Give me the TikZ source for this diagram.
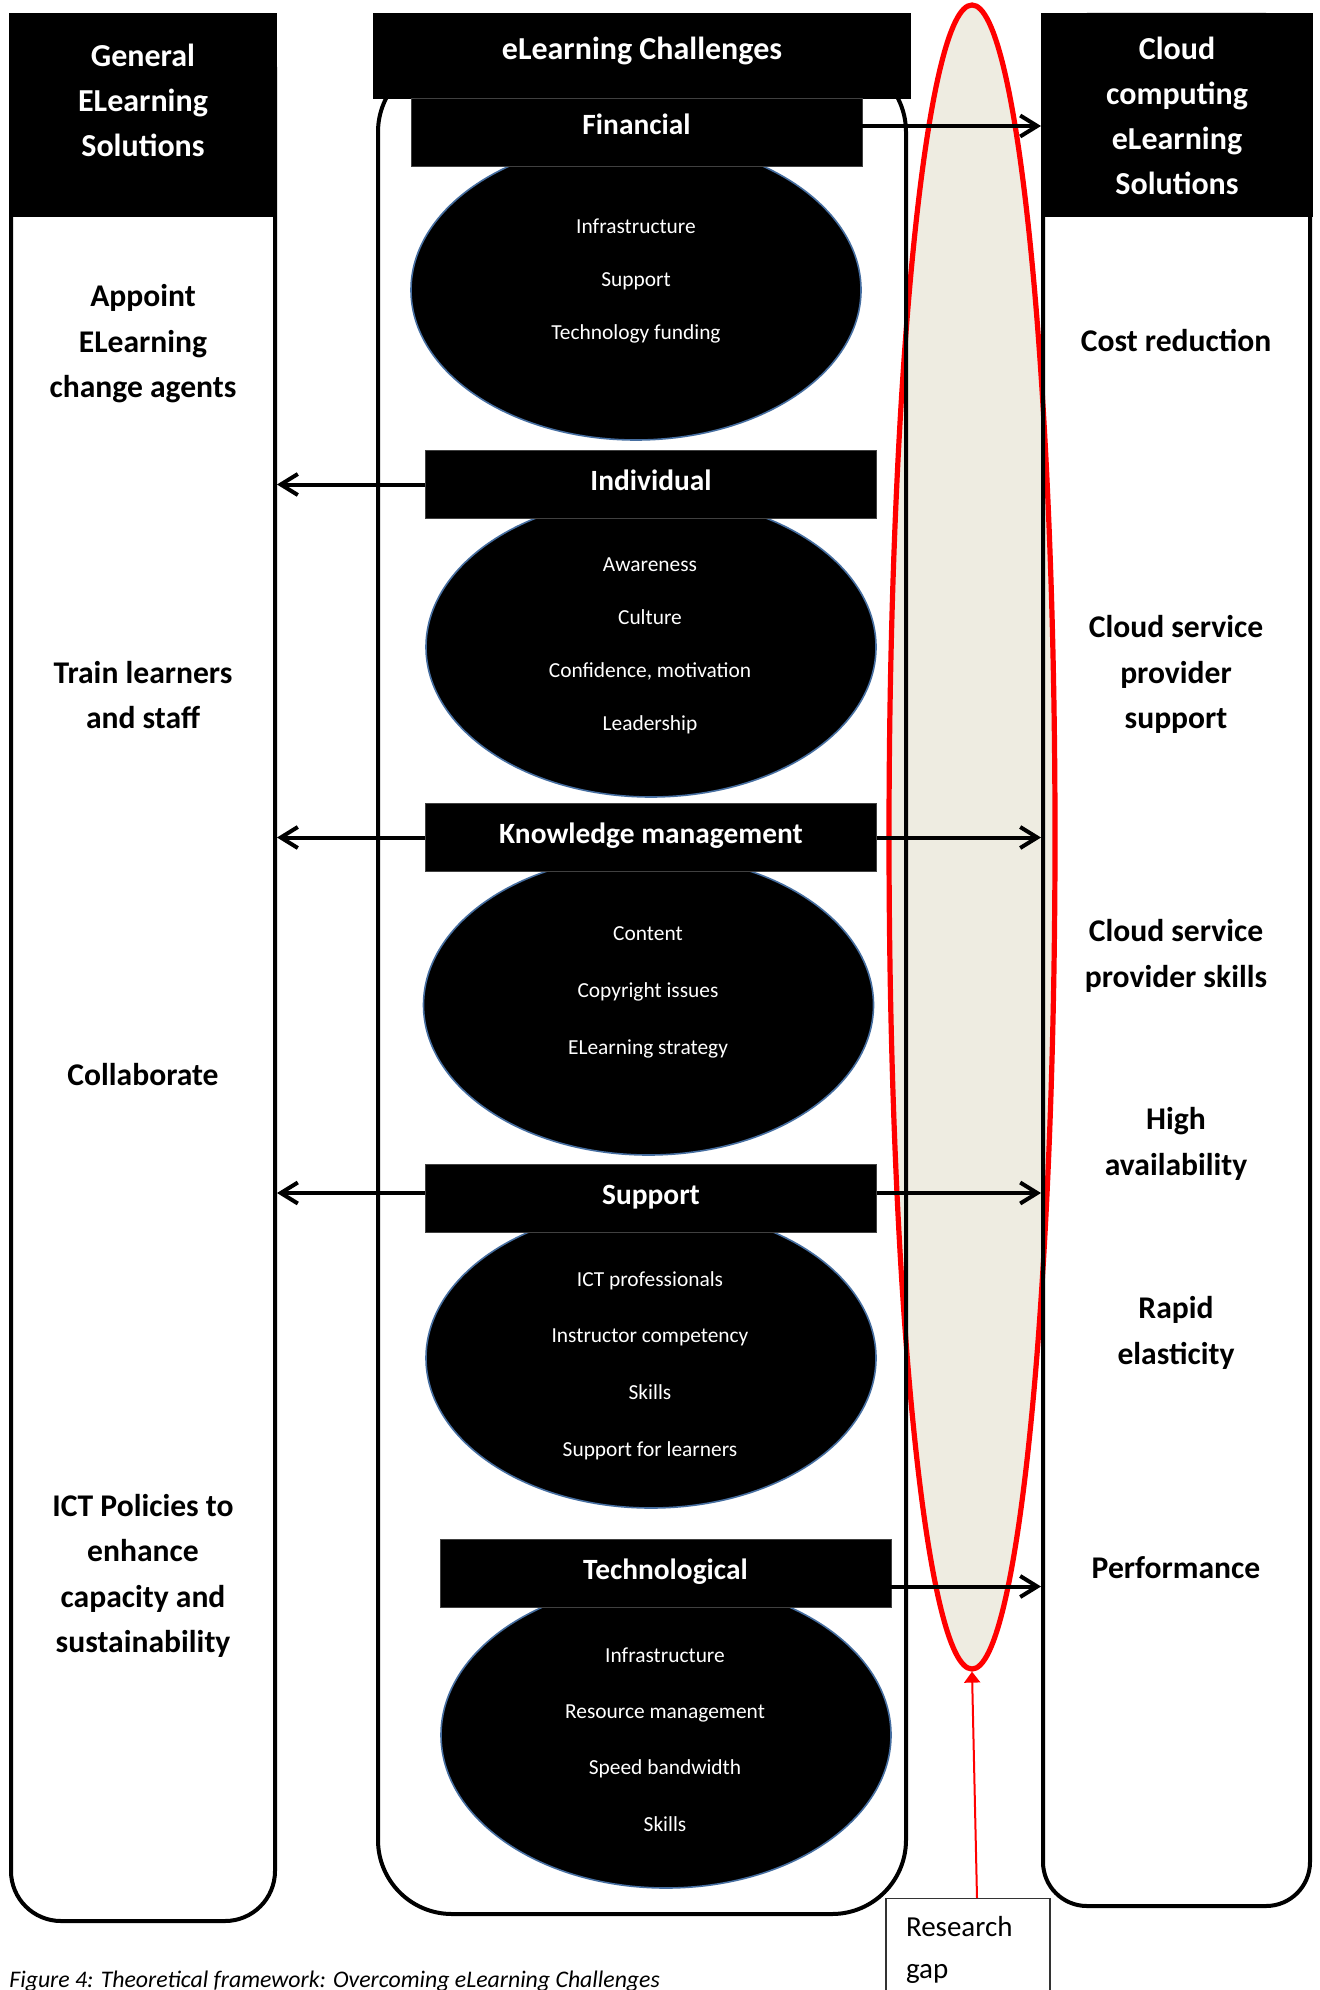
\documentclass[tikz,border=0pt]{standalone}
\usepackage{fontspec}
\setmainfont{Carlito}
\usetikzlibrary{arrows.meta,shapes.geometric}
\definecolor{contorno}{RGB}{70,110,160}
\definecolor{brecha}{RGB}{238,236,225}
\definecolor{rojo}{RGB}{255,0,0}

\begin{document}
\begin{tikzpicture}[x=0.5pt, y=-0.5pt,
    columna/.style={draw, line width=2pt, inner sep=0pt},
    cabecera/.style={fill=black, inner sep=0pt},
    titulo/.style={text=white, align=center, font=\fontsize{16}{22.5}\selectfont\bfseries},
    reto/.style={fill=black, draw=black!75, line width=0.4pt, text=white, inner sep=0pt,
      text height=11pt, text depth=5pt,
      minimum width=225.5pt, minimum height=34pt, font=\fontsize{14.7}{17}\selectfont\bfseries},
    globo/.style={ellipse, fill=black, draw=contorno, line width=0.8pt, inner sep=0pt,
      minimum width=225pt, minimum height=150pt},
    factor/.style={text=white, align=center, font=\fontsize{10.7}{26.5}\selectfont},
    solucion/.style={align=center, font=\fontsize{15.8}{22.75}\selectfont\bfseries},
    flecha/.style={line width=2pt, -{Straight Barb[length=8.5pt, width=10.5pt]}}]
  \useasboundingbox (0,0) rectangle (1320,1990);
  % brecha de investigación
  \node[ellipse, fill=brecha, draw=rojo, line width=2.6pt, inner sep=0pt,
    minimum width=83pt, minimum height=832pt] (gap) at (972,837) {};
  % columnas
  \node[columna, rounded corners=25pt, minimum width=132pt, minimum height=952pt] (lcol) at (143,969) {};
  \node[columna, rounded corners=37pt, minimum width=264pt, minimum height=928pt] (cont) at (642,986) {};
  \node[columna, rounded corners=22pt, minimum width=133.5pt, minimum height=945.5pt] (rcol) at (1176.5,960.5) {};
  % cabeceras
  \node[cabecera, minimum width=134pt, minimum height=102pt] (lhead) at (143,115) {};
  \node[cabecera, minimum width=269pt, minimum height=43pt] (mhead) at (642,56) {};
  \node[cabecera, minimum width=136pt, minimum height=102pt] (rhead) at (1177,115) {};
  \node[titulo] (ltit) at (143,100) {General\\ELearning\\Solutions};
  \node[titulo] (mtit) at (642,51) {eLearning Challenges};
  \node[titulo] (rtit) at (1177,115.5) {Cloud\\computing\\eLearning\\Solutions};
  % retos
  \node[globo] (efin) at (636,290) {};
  \node[reto, text depth=8pt] (fin) at (636.5,132) {Financial};
  \node[factor] (tfin) at (636,281) {Infrastructure\\Support\\Technology funding};
  \node[globo] (eind) at (651,647) {};
  \node[reto] (ind) at (651,484.5) {Individual};
  \node[factor] (tind) at (650,646) {Awareness\\Culture\\Confidence, motivation\\Leadership};
  \node[globo] (ekm) at (648.5,1005) {};
  \node[reto] (km) at (651,837.5) {Knowledge management};
  \node[factor, font=\fontsize{10.7}{28.5}\selectfont] (tkm) at (648,992.5) {Content\\Copyright issues\\ELearning strategy};
  \node[globo] (esup) at (651,1358) {};
  \node[reto] (sup) at (651,1198) {Support};
  \node[factor, font=\fontsize{10.7}{28.3}\selectfont] (tsup) at (650,1365.5) {ICT professionals\\Instructor competency\\Skills\\Support for learners};
  \node[globo, minimum height=153pt] (etech) at (666,1735) {};
  \node[reto] (tech) at (665.5,1573.5) {Technological};
  \node[factor, font=\fontsize{10.7}{28.2}\selectfont] (ttech) at (665,1739.5) {Infrastructure\\Resource management\\Speed bandwidth\\Skills};
  % flechas
  \coordinate (f1) at ([yshift=3pt]fin.east);
  \draw[flecha] (f1) -- (f1 -| rcol.west);
  \draw[flecha] (ind.west) -- (ind.west -| lcol.east);
  \draw[flecha] (km.west) -- (km.west -| lcol.east);
  \draw[flecha] (km.east) -- (km.east -| rcol.west);
  \coordinate (s1) at ([yshift=2.5pt]sup.west);
  \coordinate (s2) at ([yshift=2.5pt]sup.east);
  \draw[flecha] (s1) -- (s1 -| lcol.east);
  \draw[flecha] (s2) -- (s2 -| rcol.west);
  \coordinate (t1) at ([yshift=-6.5pt]tech.east);
  \draw[flecha] (t1) -- (t1 -| rcol.west);
  % soluciones generales
  \node[solucion] (agentes) at (143,344) {Appoint\\ELearning\\change agents};
  \node[solucion] (formar) at (143,695) {Train learners\\and staff};
  \node[solucion] (colab) at (143,1075) {Collaborate};
  \node[solucion] (politicas) at (143,1576) {ICT Policies to\\enhance\\capacity and\\sustainability};
  % soluciones en la nube
  \node[solucion] (costes) at (1176,341) {Cost reduction};
  \node[solucion] (soporte) at (1176,674.5) {Cloud service\\provider\\support};
  \node[solucion] (destreza) at (1176,956) {Cloud service\\provider skills};
  \node[solucion] (dispon) at (1176,1144) {High\\availability};
  \node[solucion] (elastic) at (1176,1333) {Rapid\\elasticity};
  \node[solucion] (rendim) at (1176,1568) {Performance};
  % nota
  \node[draw=black!80, line width=0.6pt, anchor=north, minimum width=82pt,
    align=left, text width=62pt, inner xsep=10pt, inner ysep=9pt,
    font=\fontsize{14.5}{21}\selectfont] (rgap) at (968,1898) {Research\\gap};
  \draw[rojo, line width=1pt, -{Triangle[length=5.5pt, width=8pt]}] ([xshift=4.5pt]rgap.north) -- (gap.south);
  \node[anchor=base west, inner sep=0pt, font=\fontsize{11.9}{14}\selectfont\itshape] (pie) at (9,1987)
    {Figure 4: Theoretical framework: Overcoming eLearning Challenges};
\end{tikzpicture}
\end{document}
